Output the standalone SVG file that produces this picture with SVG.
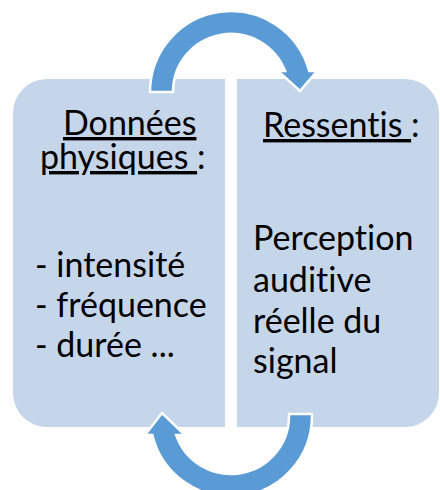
<svg xmlns="http://www.w3.org/2000/svg" width="440" height="490" viewBox="0 0 440 490">
  <style>
    .box { fill: #C5D5EA; }
    .arrow { fill: #5B9BD5; stroke: #FFFFFF; stroke-width: 2.5; stroke-linejoin: miter; }
    .t { font-family: Lato, "Liberation Sans", sans-serif; font-size: 34px; fill: #000000; font-variant-ligatures: none; font-feature-settings: "liga" 0, "clig" 0; }
    .u { text-decoration: underline; }
  </style>
  <rect width="440" height="490" fill="#FFFFFF"/>
  <g id="node-physique">
    <path class="box" d="M 47 79 L 225 79 L 225 427 L 47 427 A 34 34 0 0 1 13 393 L 13 113 A 34 34 0 0 1 47 79 Z"/>
    <text class="t" x="63" y="135"><tspan class="u">Données</tspan></text>
    <text class="t" x="40" y="169"><tspan class="u">physiques </tspan>:</text>
    <text class="t" x="35" y="277">- intensité</text>
    <text class="t" x="35" y="317">- fréquence</text>
    <text class="t" x="35" y="357">- durée ...</text>
  </g>
  <g id="node-ressentis">
    <path class="box" d="M 237 79 L 405 79 A 34 34 0 0 1 439 113 L 439 393 A 34 34 0 0 1 405 427 L 237 427 Z"/>
    <text class="t" x="263" y="137"><tspan class="u">Ressentis </tspan>:</text>
    <text class="t" x="253" y="250">Perception</text>
    <text class="t" x="253" y="292">auditive</text>
    <text class="t" x="253" y="333">réelle du</text>
    <text class="t" x="253" y="373">signal</text>
  </g>
  <g id="connectors">
    <path class="arrow" d="M 150 92 A 81 81 0 0 1 309.2 71 L 317 71 L 300 91 L 278 71 L 285.1 71 A 58 58 0 0 0 173 92 Z"/>
    <path class="arrow" d="M 312 414 L 312 416 A 81 81 0 0 1 152.3 435 L 145 435 L 162 413 L 185 435 L 176.2 435 A 58 58 0 0 0 289 416 L 289 414 Z"/>
  </g>
</svg>
